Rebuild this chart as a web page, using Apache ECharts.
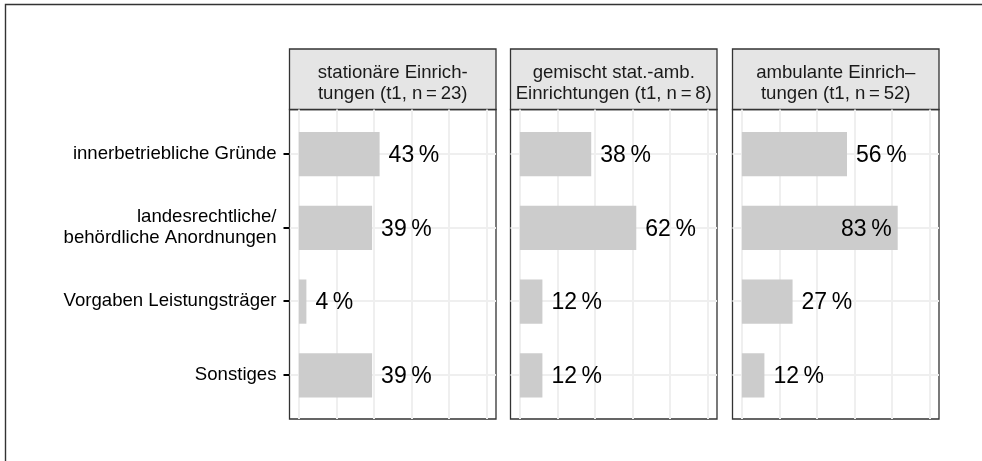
<!DOCTYPE html>
<html><head><meta charset="utf-8">
<script src="https://cdn.jsdelivr.net/npm/echarts@6/dist/echarts.min.js"></script>
<style>html,body{margin:0;padding:0;background:#fff}#c{width:982px;height:461px}</style>
</head><body><div id="c"></div>
<script>
const categories = ['innerbetriebliche Gründe', 'landesrechtliche/\nbehördliche Anordnungen', 'Vorgaben Leistungsträger', 'Sonstiges'];
const categoryPositions = [1, 2, 3, 4];
const panelTitles = [
  'stationäre Einrich-\ntungen (t1, n\u2009=\u200923)',
  'gemischt stat.-amb.\nEinrichtungen (t1, n\u2009=\u20098)',
  'ambulante Einrich\u2013\ntungen (t1, n\u2009=\u200952)'
];
const stationaer = [43, 39, 4, 39];
const gemischt = [38, 62, 12, 12];
const ambulant = [56, 83, 27, 12];
const panelValues = [stationaer, gemischt, ambulant];
const xGridValues = [0, 0.2, 0.4, 0.6, 0.8, 1.0];

const FONT = '"Liberation Sans", Arial, Helvetica, sans-serif';
const panelLefts = [289.5, 510.5, 732.5];
const panelWidth = 206.5;
const plotTop = 109.5, plotHeight = 309.5, stripTop = 49, stripHeight = 60.5;
const gridColor = '#EFEFEF';
const frameColor = '#333333';

const chart = echarts.init(document.getElementById('c'), null, {renderer: 'canvas'});

function renderBar(params, api) {
  const v = api.value(0), y = api.value(1);
  const p0 = api.coord([0, y]);
  const p1 = api.coord([v, y]);
  const h = api.size([0, 0.6])[1];
  const inside = v >= 0.8;
  return {
    type: 'group',
    children: [
      {type: 'rect', shape: {x: p0[0], y: p0[1] - h / 2 + 0.5, width: p1[0] - p0[0], height: h},
       style: {fill: '#CCCCCC'}},
      {type: 'text', style: {
        text: Math.round(v * 100) + '\u2009%',
        x: inside ? p1[0] - 6 : p1[0] + 9,
        y: p0[1] + 2,
        align: inside ? 'right' : 'left',
        verticalAlign: 'middle',
        fontSize: 23, fontFamily: FONT, fill: '#000'
      }}
    ]
  };
}

const grids = [], xAxes = [], yAxes = [], series = [], graphics = [];
graphics.push({type: 'rect', shape: {x: 5.5, y: 4.5, width: 1100, height: 1000},
  style: {fill: 'none', stroke: frameColor, lineWidth: 1.4}, silent: true});

panelLefts.forEach((left, i) => {
  grids.push({left: left, top: plotTop, width: panelWidth, height: plotHeight,
    show: true, borderColor: frameColor, borderWidth: 1.3, backgroundColor: 'transparent',
    containLabel: false, outerBoundsMode: 'none'});
  xAxes.push({gridIndex: i, type: 'value', min: -0.05, max: 1.05,
    axisLine: {show: false, onZero: false},
    axisTick: {show: false, customValues: xGridValues},
    axisLabel: {show: false, customValues: xGridValues},
    splitLine: {show: true, lineStyle: {color: gridColor, width: 2}}});
  yAxes.push({gridIndex: i, type: 'value', min: 0.4, max: 4.6, inverse: true,
    axisLine: {show: false, onZero: false},
    axisTick: {show: i === 0, length: 6, customValues: categoryPositions, lineStyle: {color: '#000', width: 2}},
    axisLabel: {show: i === 0, customValues: categoryPositions, formatter: v => categories[Math.round(v) - 1],
      fontSize: 18.6, fontFamily: FONT, color: '#000', margin: 13, lineHeight: 21},
    splitLine: {show: true, lineStyle: {color: gridColor, width: 2}}});
  series.push({type: 'custom', xAxisIndex: i, yAxisIndex: i,
    data: panelValues[i].map((v, k) => [v / 100, categoryPositions[k]]),
    encode: {x: 0, y: 1}, renderItem: renderBar, clip: false, z: 5});
  graphics.push({type: 'rect', shape: {x: left, y: stripTop, width: panelWidth, height: stripHeight},
    style: {fill: '#E5E5E5', stroke: frameColor, lineWidth: 1.3}, silent: true});
  graphics.push({type: 'text', x: left + panelWidth / 2, y: stripTop + stripHeight / 2 + 4,
    style: {text: panelTitles[i], align: 'center', verticalAlign: 'middle',
      fontSize: 18.6, fontFamily: FONT, lineHeight: 21.5, fill: '#1A1A1A'}, silent: true});
});

chart.setOption({
  animation: false,
  backgroundColor: '#fff',
  grid: grids, xAxis: xAxes, yAxis: yAxes, series: series, graphic: graphics
});
</script></body></html>
